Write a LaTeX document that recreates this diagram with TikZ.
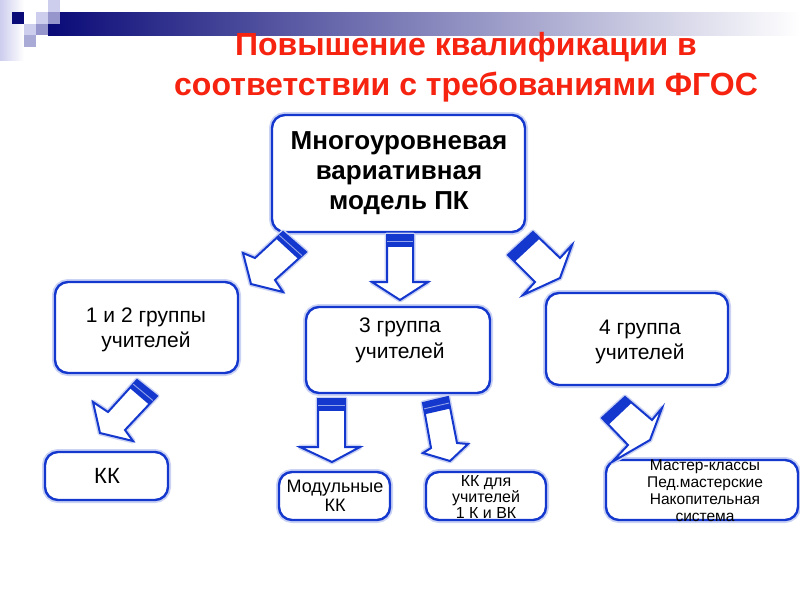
\documentclass[tikz,border=0pt]{standalone}
\usepackage{fontspec}
\setmainfont{Liberation Sans}
\usetikzlibrary{calc}
\definecolor{arrowblue}{RGB}{20,55,205}
\definecolor{navy}{RGB}{10,10,120}
\definecolor{titlered}{RGB}{245,35,15}
\definecolor{lav1}{RGB}{205,205,238}
\definecolor{lav2}{RGB}{150,150,205}
\definecolor{lav3}{RGB}{170,170,215}
\tikzset{
  boxglow/.style={draw=arrowblue!22, line width=6pt, rounded corners=13pt},
  boxline/.style={draw=arrowblue, fill=white, line width=2.4pt, rounded corners=13pt},
  arrowglow/.style={draw=arrowblue!22, line width=5pt, line join=round},
  arrowline/.style={draw=arrowblue, line width=2pt, line join=miter, fill=white},
  boxtext/.style={align=center, text=black, inner sep=0pt},
}
\newcommand\boxat[3]{% name, corner1, corner2
  \draw[boxglow] (#2) rectangle (#3);
  \draw[boxline] (#2) rectangle (#3);
  \coordinate (#1) at ($(#2)!0.5!(#3)$);
}
\newcommand\barrow[8]{% A B SB BB T BA SA highlight
  \draw[arrowglow] (#1) -- (#2) -- (#3) -- (#4) -- (#5) -- (#6) -- (#7) -- cycle;
  \draw[arrowline] (#1) -- (#2) -- (#3) -- (#4) -- (#5) -- (#6) -- (#7) -- cycle;
  \fill[arrowblue] (#1) -- (#2) -- ($(#2)!0.25!(#3)$) -- ($(#1)!0.25!(#7)$) -- cycle;
  \ifx#8y\draw[white!55!arrowblue, line width=0.9pt] ($(#1)!0.13!(#7)$) -- ($(#2)!0.13!(#3)$);\fi
}
\begin{document}
\begin{tikzpicture}[x=1pt,y=-1pt]
\useasboundingbox (0,0) rectangle (800,600);
\fill[white] (0,0) rectangle (800,600);
% header decoration
\shade[left color=lav1, right color=white] (0,0) rectangle (24,60);
\shade[left color=navy, right color=white] (48,12) rectangle (800,35);
\fill[navy] (12,12) rectangle (24,24);
\fill[lav1] (36,12) rectangle (48,24);
\fill[lav1] (48,0) rectangle (60,12);
\fill[lav2] (48,12) rectangle (60,24);
\fill[lav2] (36,24) rectangle (48,35);
\fill[lav1] (24,24) rectangle (36,35);
\fill[lav3] (24,35) rectangle (36,47);
% title
\node[boxtext, text=titlered, font=\fontsize{32}{40}\selectfont\bfseries] (title) at (466,67)
  {Повышение квалификации в\\соответствии с требованиями ФГОС};
% boxes
\boxat{top}{272,115}{525,232}
\boxat{g12}{55,282}{238,373}
\boxat{g3}{306,307}{490,393}
\boxat{g4}{546,293}{728,385}
\boxat{kk}{45,452}{168,500}
\boxat{mod}{279,472}{390,520}
\boxat{kkd}{426,472}{546,520}
\boxat{mast}{606,460}{798,520}
% texts
\node[boxtext, font=\fontsize{26}{30}\selectfont\bfseries] (toptext) at (399,173)
  {Многоуровневая\\вариативная\\модель ПК};
\node[boxtext, font=\fontsize{21}{25}\selectfont] (g12text) at (146,330) {1 и 2 группы\\учителей};
\node[boxtext, font=\fontsize{21}{26}\selectfont] (g3text) at (400,340) {3 группа\\учителей};
\node[boxtext, font=\fontsize{21}{25}\selectfont] (g4text) at (640,342) {4 группа\\учителей};
\node[boxtext, font=\fontsize{22}{25}\selectfont] (kktext) at (107,476) {КК};
\node[boxtext, font=\fontsize{18}{19}\selectfont] (modtext) at (335,496) {Модульные\\КК};
\node[boxtext, font=\fontsize{16}{16}\selectfont] (kkdtext) at (486,497) {КК для\\учителей\\1 К и ВК};
\node[boxtext, font=\fontsize{15.5}{17}\selectfont] (masttext) at (705,491)
  {Мастер-классы\\Пед.мастерские\\Накопительная\\система};
% arrows
\barrow{387,235}{413,235}{413,282}{428,282}{400,300}{372,282}{387,282}{y}
\barrow{306,252}{283,232}{255,258}{243,253}{251,284}{283,292}{275,280}{y}
\barrow{508,255}{533,232}{560,258}{572,245}{560,278}{523,295}{535,282}{n}
\barrow{157,396}{137,380}{108,412}{93,402}{100,433}{133,441}{125,430}{y}
\barrow{318,399}{345,399}{345,447}{360,447}{332,462}{300,447}{318,447}{y}
\barrow{423,403}{448,397}{457,443}{468,444}{450,461}{423,453}{431,448}{y}
\barrow{602,418}{625,397}{652,420}{662,408}{650,440}{612,462}{628,445}{n}
\end{tikzpicture}
\end{document}
